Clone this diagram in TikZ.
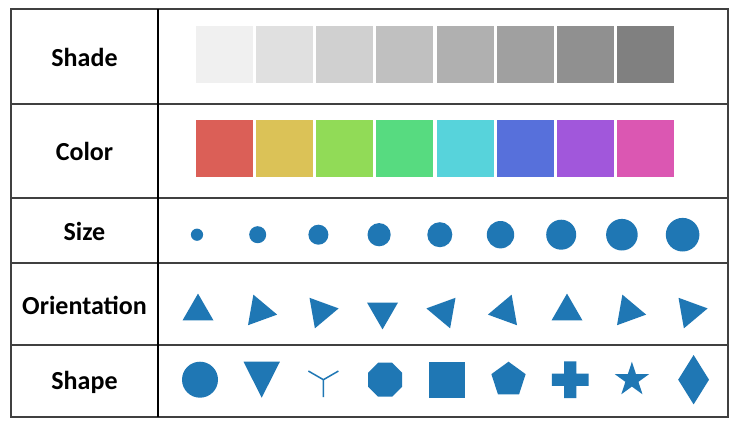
\documentclass[tikz,border=0pt]{standalone}
\usepackage{fontspec}
\setmainfont{Carlito}
\definecolor{mblue}{HTML}{1F77B4}
\definecolor{gridc}{HTML}{404040}
\definecolor{h0}{HTML}{DB5F57}
\definecolor{h1}{HTML}{DBC257}
\definecolor{h2}{HTML}{91DB57}
\definecolor{h3}{HTML}{57DB80}
\definecolor{h4}{HTML}{57D3DB}
\definecolor{h5}{HTML}{5770DB}
\definecolor{h6}{HTML}{A157DB}
\definecolor{h7}{HTML}{DB57B2}
\begin{document}
\begin{tikzpicture}[x=1pt,y=-1pt,
  gridline/.style={draw=gridc, line width=2pt},
  divline/.style={draw=black, line width=1.6pt},
  lbl/.style={font=\fontsize{26}{30}\selectfont\bfseries, anchor=center, inner sep=0pt},
  mk/.style={fill=mblue, draw=none},
  sq/.style={draw=white, line width=0.6pt}]
\useasboundingbox (0,0) rectangle (749,434);
\fill[white] (0,0) rectangle (749,434);

% shade row
\foreach \g [count=\i from 0] in {240,224,208,192,176,160,144,128} {
  \definecolor{gcur}{RGB}{\g,\g,\g}
  \pgfmathsetmacro\xa{195+60.2*\i}
  \filldraw[sq, fill=gcur] (\xa,25) rectangle ++(58,58.3);
}
% color row
\foreach \c [count=\i from 0] in {h0,h1,h2,h3,h4,h5,h6,h7} {
  \pgfmathsetmacro\xa{195+60.2*\i}
  \filldraw[sq, fill=\c] (\xa,119) rectangle ++(58,58.3);
}
% size row
\foreach \r [count=\i from 0] in {6.1,8.5,10,11.6,12.5,13.7,15,15.8,16.8} {
  \pgfmathsetmacro\cx{197+60.7*\i}
  \fill[mk] (\cx,234.7) circle (\r);
}
% orientation row
\foreach \i in {0,...,8} {
  \pgfmathsetmacro\cx{198+61.5*\i}
  \pgfmathsetmacro\a{-(90+20*\i)}
  \begin{scope}[shift={(\cx,311.5)}]
    \fill[mk] (\a:17.9) -- (\a-120:17.9) -- (\a+120:17.9) -- cycle;
  \end{scope}
}
% shape row
\begin{scope}[shift={(200,379.7)}]
  \fill[mk] (0,0) circle (18);
\end{scope}
\begin{scope}[shift={(261.7,379.7)}]
  \fill[mk] (-18.2,-18) -- (18.2,-18) -- (0,18) -- cycle;
\end{scope}
\begin{scope}[shift={(323.4,379.7)}]
  \draw[mblue, line width=1.5pt] (0,0) -- (90:17.3) (0,0) -- (-150:17.3) (0,0) -- (-30:17.3);
\end{scope}
\begin{scope}[shift={(385.1,379.7)}]
  \fill[mk] (22.5:18.4) \foreach \k in {1,...,7} { -- (22.5+45*\k:18.4) } -- cycle;
\end{scope}
\begin{scope}[shift={(446.8,379.7)}]
  \fill[mk] (-18,-18) rectangle (18,18);
\end{scope}
\begin{scope}[shift={(508.5,379.7)}]
  \fill[mk] (-90:18) \foreach \k in {1,...,4} { -- (-90-72*\k:18) } -- cycle;
\end{scope}
\begin{scope}[shift={(570.2,379.7)}]
  \fill[mk] (-6.1,-18.3) -- (6.1,-18.3) -- (6.1,-6.1) -- (18.3,-6.1) -- (18.3,6.1) -- (6.1,6.1)
    -- (6.1,18.3) -- (-6.1,18.3) -- (-6.1,6.1) -- (-18.3,6.1) -- (-18.3,-6.1) -- (-6.1,-6.1) -- cycle;
\end{scope}
\begin{scope}[shift={(631.9,379.7)}]
  \fill[mk] (-90:18) \foreach \k in {1,...,9} {
    -- ({-90-36*\k}:{ifthenelse(mod(\k,2)==1,6.88,18)}) } -- cycle;
\end{scope}
\begin{scope}[shift={(693.6,379.7)}]
  \fill[mk] (0,-24.7) -- (15.4,0) -- (0,24.7) -- (-15.4,0) -- cycle;
\end{scope}

% table lines
\draw[gridline] (11,9) rectangle (728,417.3);
\foreach \yy in {103.8,197.7,263.4,345} {
  \draw[gridline] (11,\yy) -- (728,\yy);
}
\draw[divline] (158,9) -- (158,417.3);

% labels
\node[lbl] (shade) at (84.5,57) {Shade};
\node[lbl] (color) at (84.5,151) {Color};
\node[lbl] (size) at (84.5,231) {Size};
\node[lbl] (orient) at (84.5,305) {Orientation};
\node[lbl] (shape) at (84.5,382) {Shape};
\end{tikzpicture}
\end{document}
